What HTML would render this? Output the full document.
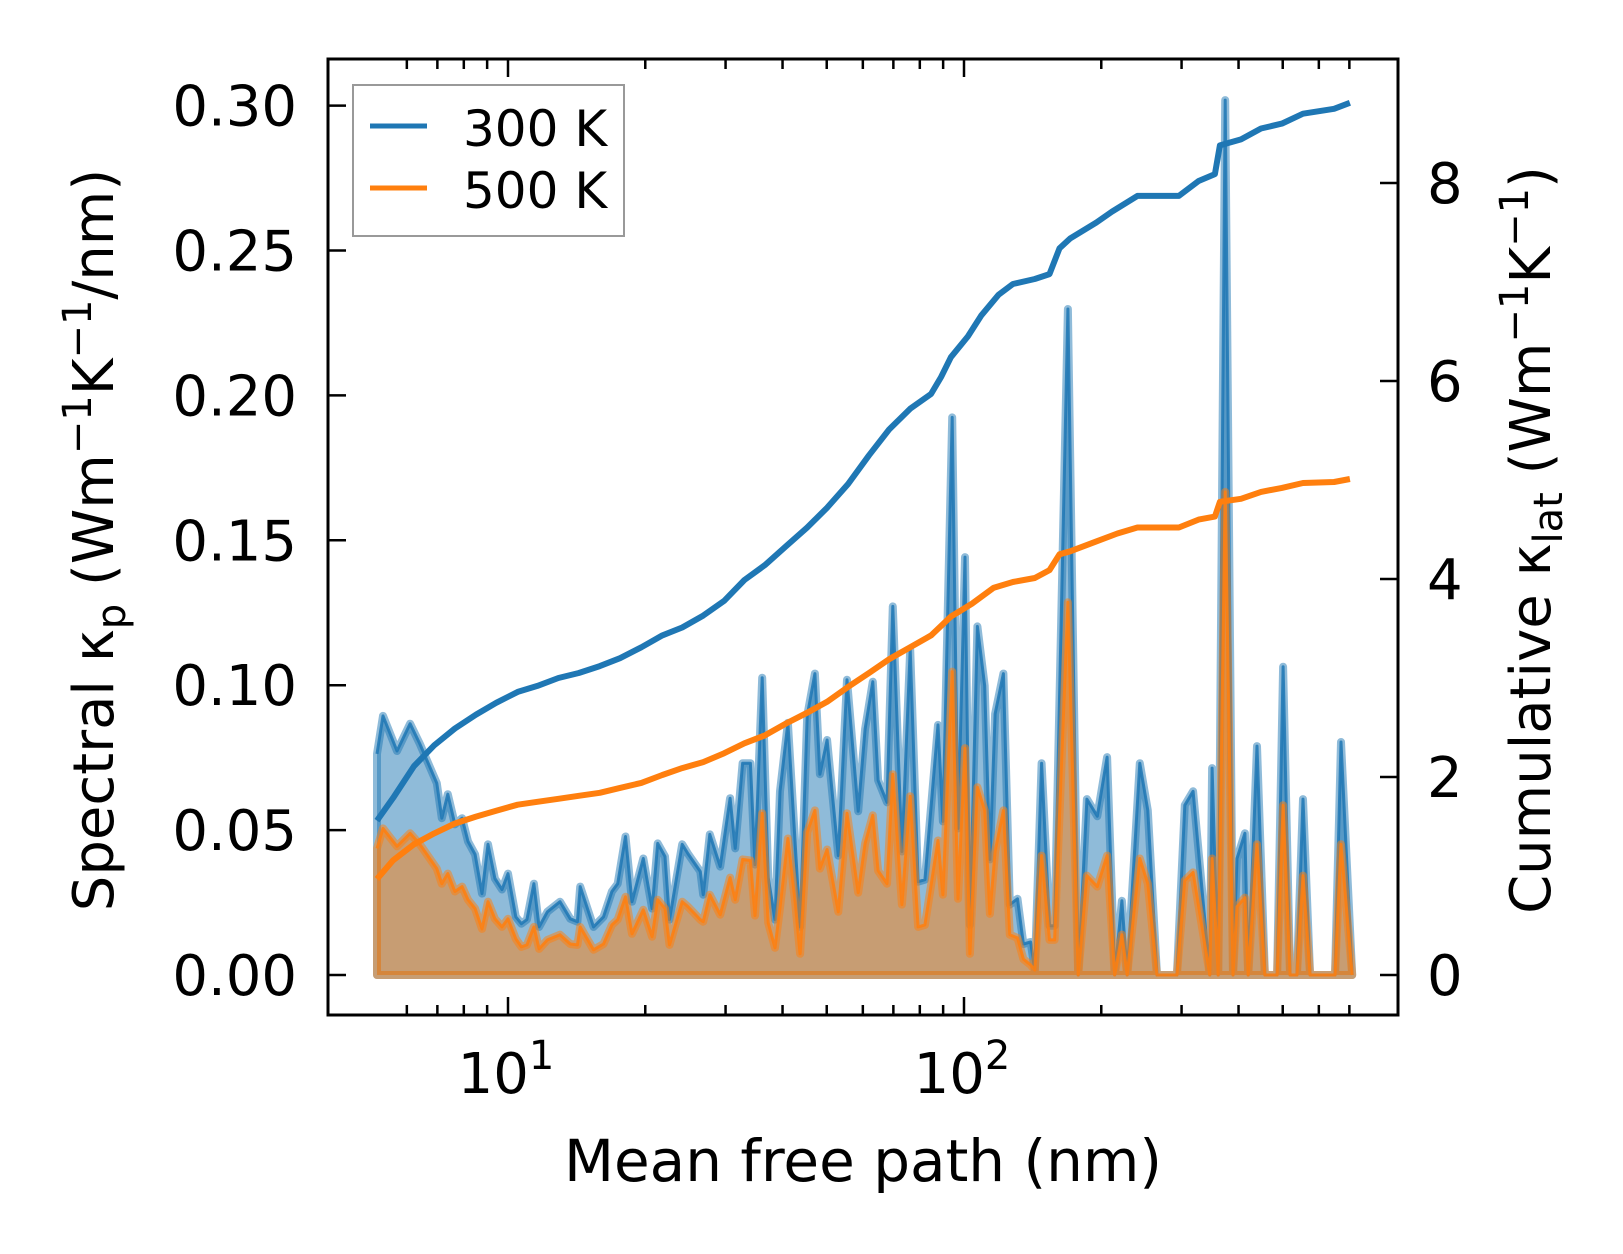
<!DOCTYPE html>
<html><head><meta charset="utf-8"><style>
html,body{margin:0;padding:0;background:#fff;}
svg{display:block;font-family:"DejaVu Sans","Liberation Sans",sans-serif;}
</style></head><body>
<svg id="chart" width="1623" height="1254" viewBox="0 0 1623 1254" xmlns="http://www.w3.org/2000/svg">
<g id="plot"></g>
</svg>
<script>
// spectral data (shared mean free path grid, nm)
const mfp = [5.16,5.32,5.71,6.10,6.41,6.98,7.16,7.38,7.65,7.93,8.17,8.47,8.77,9.04,9.36,9.70,10.0,10.4,10.7,11.0,11.4,11.7,12.2,13.0,13.7,14.2,14.4,15.4,16.2,16.9,17.4,18.1,18.7,19.8,20.7,21.3,22.1,22.6,24.1,24.8,26.4,26.8,27.7,29.2,30.7,31.5,32.7,34.0,34.8,36.1,37.2,38.5,39.5,41.1,42.6,43.7,45.3,47.1,48.3,50.1,53.0,55.4,58.6,60.7,63.1,64.8,67.8,69.8,73.1,76.2,79.3,82.1,87.7,89.9,94.2,97.0,100.5,103,107,111,114,117,122,126,131,135,140,143,148,154,158,169,178,186,196,206,214,222,228,243,253,265,293,305,318,346,350,361,374,389,397,413,420,439,457,486,501,519,537,554,574,651,671,710];
const spec300 = [0.0763,0.0894,0.0773,0.0867,0.0797,0.0662,0.0541,0.0624,0.0520,0.0541,0.0461,0.0416,0.0281,0.0451,0.0333,0.0295,0.0350,0.0201,0.0177,0.0191,0.0315,0.0166,0.0218,0.0253,0.0194,0.0184,0.0305,0.0166,0.0201,0.0288,0.0315,0.0478,0.0253,0.0402,0.0229,0.0454,0.0409,0.0191,0.0451,0.0419,0.0357,0.0277,0.0485,0.0374,0.0610,0.0437,0.0731,0.0731,0.0381,0.1026,0.0336,0.0191,0.0634,0.0870,0.0464,0.0166,0.0894,0.1040,0.0693,0.0811,0.0412,0.1019,0.0565,0.0849,0.1012,0.0672,0.0596,0.1272,0.0426,0.1123,0.0322,0.0329,0.0863,0.0530,0.1924,0.0506,0.1442,0.0173,0.1203,0.0998,0.0399,0.0901,0.1040,0.0243,0.0263,0.0107,0.0114,0.0017,0.0731,0.0170,0.0170,0.2298,0,0.0607,0.0548,0.0752,0,0.0256,0,0.0731,0.0568,0,0,0.0586,0.0634,0,0.0714,0,0.3019,0,0.0402,0.0489,0,0.0790,0,0,0.1064,0,0,0.0607,0,0,0.0804,0];
const spec500 = [0.0437,0.0506,0.0444,0.0489,0.0451,0.0367,0.0315,0.0350,0.0288,0.0305,0.0260,0.0229,0.0159,0.0253,0.0194,0.0166,0.0194,0.0125,0.0097,0.0104,0.0166,0.0090,0.0121,0.0139,0.0107,0.0104,0.0166,0.0087,0.0107,0.0173,0.0191,0.0270,0.0142,0.0225,0.0132,0.0260,0.0229,0.0104,0.0253,0.0236,0.0191,0.0184,0.0277,0.0208,0.0336,0.0260,0.0399,0.0395,0.0205,0.0558,0.0180,0.0094,0.0232,0.0471,0.0256,0.0073,0.0492,0.0568,0.0367,0.0433,0.0218,0.0558,0.0284,0.0454,0.0551,0.0360,0.0315,0.0693,0.0243,0.0617,0.0166,0.0173,0.0464,0.0277,0.1047,0.0263,0.0783,0.0073,0.0648,0.0568,0.0211,0.0426,0.0568,0.0139,0.0128,0.0055,0.0035,0.0017,0.0412,0.0121,0.0121,0.1286,0,0.0343,0.0305,0.0412,0,0.0139,0,0.0402,0.0315,0,0,0.0326,0.0354,0,0.0402,0,0.1667,0,0.0236,0.0267,0,0.0451,0,0,0.0586,0,0,0.0343,0,0,0.0451,0];
// cumulative data
const cumX300 = [5.16,5.60,6.22,6.89,7.65,8.51,9.42,10.5,11.6,12.9,14.3,15.9,17.6,19.6,21.8,24.1,26.8,29.8,33.0,36.6,40.7,45.3,50.1,55.7,61.9,68.5,76.2,84.7,89.1,93.6,102,109,119,128,143,154,162,171,195,211,240,296,327,355,364,405,448,498,554,648,702];
const cum300 = [1.56,1.79,2.11,2.32,2.49,2.63,2.75,2.86,2.92,3.00,3.05,3.12,3.20,3.31,3.43,3.51,3.63,3.78,3.99,4.14,4.33,4.52,4.72,4.96,5.25,5.51,5.72,5.87,6.04,6.24,6.45,6.66,6.87,6.98,7.03,7.08,7.34,7.44,7.60,7.71,7.87,7.87,8.02,8.09,8.38,8.44,8.55,8.60,8.70,8.75,8.81];
const cumX500 = [5.16,5.60,6.22,6.89,7.65,8.51,9.42,10.5,11.6,12.9,14.3,15.9,17.6,19.6,21.8,24.1,26.8,29.8,33.0,36.6,40.7,45.3,50.1,55.7,61.9,68.5,76.2,84.7,93.6,104,116,128,143,154,162,171,195,217,240,296,327,355,364,405,448,498,554,648,702];
const cum500 = [0.97,1.16,1.32,1.43,1.53,1.60,1.66,1.72,1.75,1.78,1.81,1.84,1.89,1.94,2.02,2.09,2.15,2.24,2.34,2.42,2.54,2.65,2.76,2.91,3.05,3.19,3.31,3.43,3.62,3.75,3.91,3.97,4.01,4.09,4.25,4.28,4.38,4.46,4.52,4.52,4.60,4.63,4.78,4.81,4.88,4.92,4.97,4.98,5.01];
const leftTicks = [0,0.05,0.10,0.15,0.20,0.25,0.30];
const leftTickLabels = ["0.00","0.05","0.10","0.15","0.20","0.25","0.30"];
const rightTicks = [0,2,4,6,8];
const rightTickLabels = ["0","2","4","6","8"];
const xMajor = [10,100];
const xMinor = [6,7,8,9,20,30,40,50,60,70,80,90,200,300,400,500,600,700];

const NS="http://www.w3.org/2000/svg";
const L=328,R=1398,T=59,B=1015;
function X(v){return 508+(Math.log10(v)-1)*456;}
function YL(v){return 975-v*2898;}
function YR(v){return 975-v*99;}
const g=document.getElementById('plot');
function mk(tag,attrs,parent){const e=document.createElementNS(NS,tag);for(const k in attrs)e.setAttribute(k,attrs[k]);(parent||g).appendChild(e);return e;}

function specLayer(vals,color,name){
  let pts=mfp.map((m,i)=>X(m).toFixed(1)+','+YL(vals[i]).toFixed(1));
  const poly='M'+X(mfp[0]).toFixed(1)+','+YL(0)+' L'+pts.join(' L')+' L'+X(mfp[mfp.length-1]).toFixed(1)+','+YL(0)+' Z';
  const f=mk('path',{d:poly,fill:color,'fill-opacity':0.5,stroke:color,'stroke-opacity':0.5,'stroke-width':8,'stroke-linejoin':'round'});
  
  
  const l=mk('path',{d:'M'+pts.join(' L'),fill:'none',stroke:color,'stroke-opacity':0.85,'stroke-width':3,'stroke-linejoin':'round'});
  
  
}
specLayer(spec300,'#1f77b4','spectral-300k');
specLayer(spec500,'#ff7f0e','spectral-500k');

function cumLine(xs,vals,color,name){
  const d='M'+xs.map((m,i)=>X(m).toFixed(1)+','+YR(vals[i]).toFixed(1)).join(' L');
  const p=mk('path',{d:d,fill:'none',stroke:color,'stroke-width':6,'stroke-linejoin':'round'});
  
  
}
cumLine(cumX300,cum300,'#1f77b4','cumulative-300k');
cumLine(cumX500,cum500,'#ff7f0e','cumulative-500k');

// frame
const fr=mk('rect',{x:L,y:T,width:R-L,height:B-T,fill:'none',stroke:'#000','stroke-width':3});



// ticks
const tg=mk('g',{stroke:'#000','stroke-width':2.5});


leftTicks.forEach(v=>{mk('line',{x1:L,x2:L+18,y1:YL(v),y2:YL(v)},tg);});
rightTicks.forEach(v=>{mk('line',{x1:R,x2:R-18,y1:YR(v),y2:YR(v)},tg);});
xMajor.forEach(v=>{mk('line',{x1:X(v),x2:X(v),y1:B,y2:B-18},tg);mk('line',{x1:X(v),x2:X(v),y1:T,y2:T+18},tg);});
xMinor.forEach(v=>{mk('line',{x1:X(v),x2:X(v),y1:B,y2:B-10},tg);mk('line',{x1:X(v),x2:X(v),y1:T,y2:T+10},tg);});

// tick labels
leftTicks.forEach((v,i)=>{const t=mk('text',{x:297,y:YL(v)+20,'font-size':56,'text-anchor':'end',fill:'#000'});t.textContent=leftTickLabels[i];

});
rightTicks.forEach((v,i)=>{const t=mk('text',{x:1427,y:YR(v)+20,'font-size':56,'text-anchor':'start',fill:'#000'});t.textContent=rightTickLabels[i];

});
xMajor.forEach(v=>{const t=mk('text',{x:X(v)-2,y:1093,'font-size':56,'text-anchor':'middle',fill:'#000'});


const e=Math.round(Math.log10(v));t.innerHTML='10<tspan dy="-24" font-size="40">'+e+'</tspan>';});
</script>
<svg style="position:absolute;left:0;top:0" width="1623" height="1254" viewBox="0 0 1623 1254" xmlns="http://www.w3.org/2000/svg" font-family="DejaVu Sans, Liberation Sans, sans-serif">
<g>
<rect x="353" y="85" width="271" height="151" fill="#fff" fill-opacity="0.8" stroke="#999" stroke-width="2"/>
<line x1="370" x2="427" y1="126" y2="126" stroke="#1f77b4" stroke-width="5"/>
<text x="463" y="146" font-size="50">300 K</text>
<line x1="370" x2="427" y1="188" y2="188" stroke="#ff7f0e" stroke-width="5"/>
<text x="463" y="208" font-size="50">500 K</text>
</g>
<text x="863" y="1181" font-size="58" text-anchor="middle">Mean free path (nm)</text>
<text transform="translate(113,540) rotate(-90)" font-size="56" text-anchor="middle">Spectral κ<tspan dy="12" font-size="40">p</tspan><tspan dy="-12"> (Wm</tspan><tspan dy="-22" font-size="40">−1</tspan><tspan dy="22">K</tspan><tspan dy="-22" font-size="40">−1</tspan><tspan dy="22">/nm)</tspan></text>
<text transform="translate(1550,540) rotate(-90)" font-size="56" text-anchor="middle">Cumulative κ<tspan dy="12" font-size="40">lat</tspan><tspan dy="-12"> (Wm</tspan><tspan dy="-22" font-size="40">−1</tspan><tspan dy="22">K</tspan><tspan dy="-22" font-size="40">−1</tspan><tspan dy="22">)</tspan></text>
</svg>
</body></html>
